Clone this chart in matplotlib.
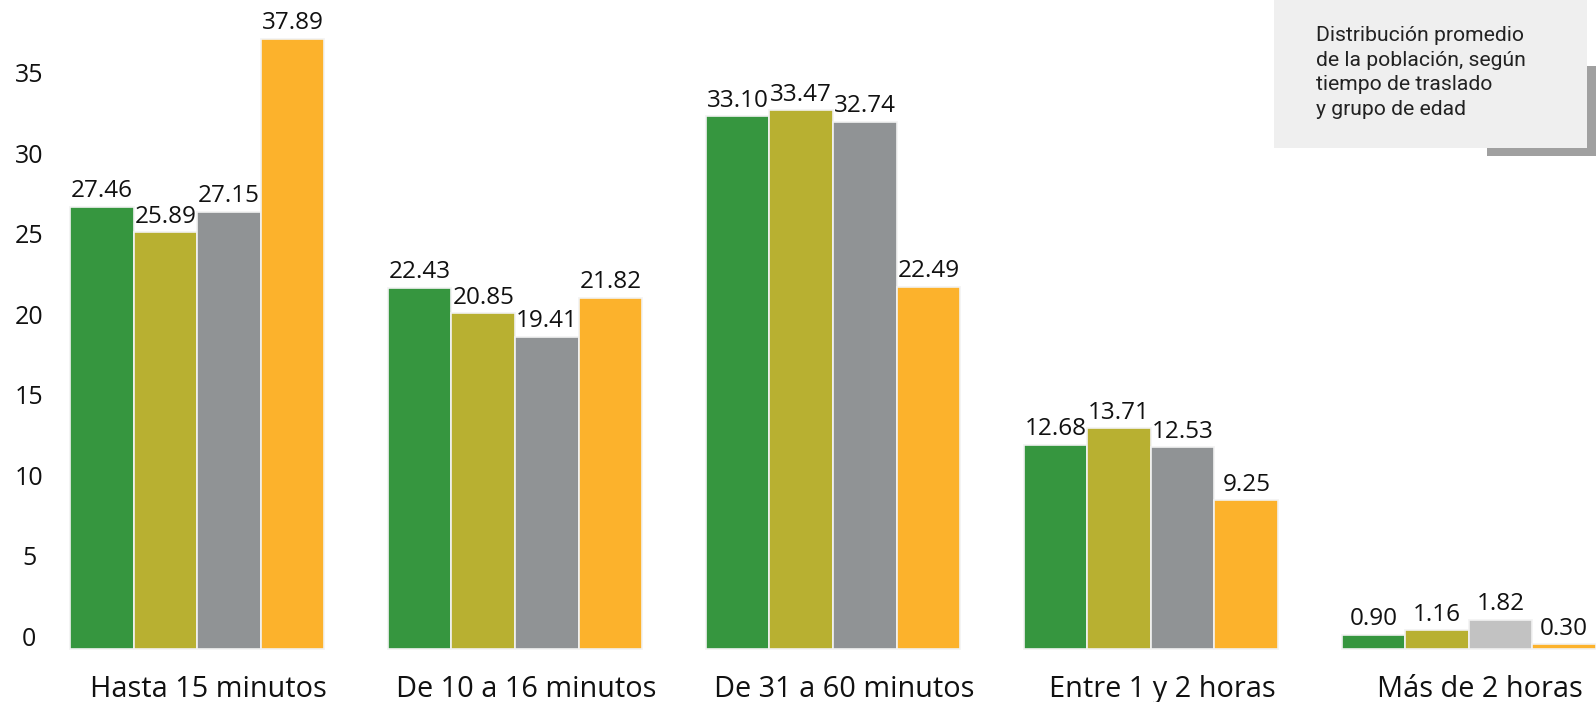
import matplotlib
matplotlib.use("Agg")
import matplotlib.pyplot as plt
from matplotlib.patches import Rectangle
import matplotlib.transforms as mtrans
import numpy as np

categories = ["Hasta 15 minutos", "De 10 a 16 minutos", "De 31 a 60 minutos",
              "Entre 1 y 2 horas", "Más de 2 horas"]
serie_1 = [27.46, 22.43, 33.10, 12.68, 0.90]
serie_2 = [25.89, 20.85, 33.47, 13.71, 1.16]
serie_3 = [27.15, 19.41, 32.74, 12.53, 1.82]
serie_4 = [37.89, 21.82, 22.49, 9.25, 0.30]
y_ticks = [0, 5, 10, 15, 20, 25, 30, 35]
legend_title = "Distribución promedio\nde la población, según\ntiempo de traslado\ny grupo de edad"

colors = ["#36963f", "#b8b031", "#909395", "#fcb22c"]
gray_last = "#c2c2c2"

W, H = 1596, 702
fig = plt.figure(figsize=(W / 100, H / 100), dpi=100)
ax = fig.add_axes([0, 0, 1, 1])
ax.set_xlim(-0.62, 4.40)
ax.set_ylim(-3.29, 40.31)
ax.axis("off")

font = "Open Sans"
x = np.arange(len(categories))
bw = 0.2
series = [serie_1, serie_2, serie_3, serie_4]
for k, s in enumerate(series):
    pos = x + (k - 1.5) * bw
    cols = [colors[k]] * len(s)
    if k == 2:
        cols[-1] = gray_last
    ax.bar(pos, s, width=bw, color=cols, edgecolor="#f2f2f2", linewidth=1.2, zorder=2)
    for xi, v in zip(pos, s):
        ax.annotate(f"{v:.2f}", (xi, v), xytext=(0, 2.5), textcoords="offset points",
                    ha="center", va="bottom", fontsize=17.5, family=font, color="#111111")

# y tick labels (drawn slightly above their values, as in the reference)
tr = mtrans.blended_transform_factory(fig.transFigure, ax.transData)
for t in y_ticks:
    ax.text(29 / W, t + 0.62, str(t), transform=tr, ha="center", va="center",
            fontsize=18, family=font, color="#111111")

for xi, c in zip(x, categories):
    ax.text(xi + 0.035, -2.5, c, ha="center", va="center", fontsize=20.8,
            family=font, color="#111111")

# legend-like box with shadow (figure pixel coords)
def px_rect(x0, y0, x1, y1, color, z):
    fig.patches.append(Rectangle((x0 / W, 1 - y1 / H), (x1 - x0) / W, (y1 - y0) / H,
                                 transform=fig.transFigure, facecolor=color,
                                 edgecolor="none", zorder=z))

px_rect(1487, 66, 1596, 156, "#a0a0a0", 5)
px_rect(1274, 0, 1587, 148, "#efefef", 6)
fig.text(1316 / W, 1 - 26 / H, legend_title, ha="left", va="top", fontsize=15.2,
         family="Roboto", color="#222222", linespacing=1.38, zorder=7)

fig.savefig("out.png", dpi=100)
